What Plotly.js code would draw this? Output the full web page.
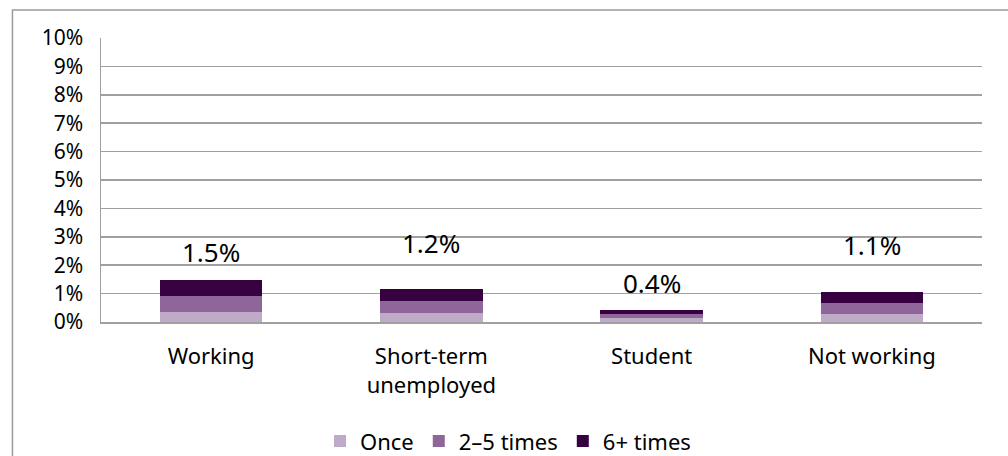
<!DOCTYPE html>
<html>
<head>
<meta charset="utf-8">
<script src="https://cdn.plot.ly/plotly-3.0.1.min.js"></script>
<style>
html,body{margin:0;padding:0;background:#fff;}
#chart{width:1008px;height:456px;}
</style>
</head>
<body>
<div id="chart"></div>
<script>
var categories = ["Working", "Short-term<br>unemployed", "Student", "Not working"];
var seriesNames = ["Once", "2–5 times", "6+ times"];
var once = [0.36, 0.31, 0.15, 0.27];
var twoToFive = [0.56, 0.43, 0.13, 0.40];
var sixPlus = [0.55, 0.42, 0.14, 0.38];
var totalLabels = ["1.5%", "1.2%", "0.4%", "1.1%"];
var yTickVals = [0,1,2,3,4,5,6,7,8,9,10];
var yTickText = ["0%","1%","2%","3%","4%","5%","6%","7%","8%","9%","10%"];

// label placement (style, not data)
var labelY = [2.46, 2.78, 1.37, 2.71];
var colors = ["#bfaac7", "#8e6699", "#370041"];
var FONT = "Noto Sans, DejaVu Sans, sans-serif";

var seriesValues = [once, twoToFive, sixPlus];
var traces = seriesValues.map(function(vals, i){
  return {
    type: "bar",
    name: seriesNames[i],
    x: categories,
    y: vals,
    width: 0.466,
    marker: {color: colors[i], line: {width: 0}},
    hoverinfo: "x+y+name"
  };
});

var annotations = categories.map(function(c, i){
  return {
    x: c, y: labelY[i], xref: "x", yref: "y",
    text: totalLabels[i], showarrow: false,
    font: {family: FONT, size: 26, color: "#000"},
    xanchor: "center", yanchor: "middle"
  };
});

var layout = {
  width: 1008, height: 456,
  margin: {l: 101, r: 26, t: 38, b: 134, pad: 0, autoexpand: false},
  paper_bgcolor: "#fff", plot_bgcolor: "#fff",
  barmode: "stack",
  font: {family: FONT, size: 21, color: "#000"},
  xaxis: {
    type: "category",
    automargin: false,
    showgrid: false,
    showline: true, linecolor: "#a0a0a0", linewidth: 1.5,
    ticks: "", ticklabelstandoff: 14,
    tickfont: {family: FONT, size: 22, color: "#000"},
    fixedrange: true
  },
  yaxis: {
    range: [0, 10],
    automargin: false,
    tickvals: yTickVals, ticktext: yTickText,
    showgrid: true, gridcolor: "#a0a0a0", gridwidth: 1.5,
    showline: true, linecolor: "#a0a0a0", linewidth: 1.5,
    zeroline: false,
    ticks: "", ticklabelstandoff: 12,
    tickfont: {family: FONT, size: 21, color: "#000"},
    fixedrange: true
  },
  legend: {
    orientation: "h",
    x: 0.462, xanchor: "center",
    y: -0.42, yanchor: "middle",
    font: {family: FONT, size: 22, color: "#000"},
    traceorder: "normal",
    itemwidth: 30
  },
  annotations: annotations,
  shapes: [{
    type: "rect", xref: "paper", yref: "paper",
    x0: -0.1005, x1: 1.2, y0: -0.7, y1: 1.0986,
    line: {color: "#9a9a9a", width: 1.5},
    fillcolor: "rgba(0,0,0,0)",
    layer: "below"
  }],
  showlegend: true
};

Plotly.newPlot("chart", traces, layout, {displayModeBar: false, staticPlot: true});
</script>
</body>
</html>
